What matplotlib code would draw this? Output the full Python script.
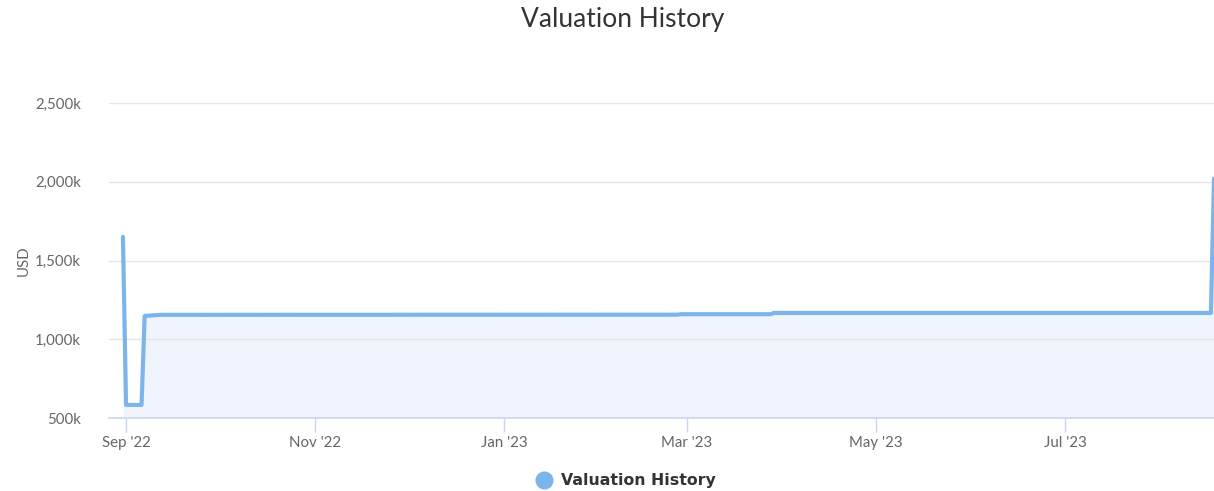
import matplotlib
matplotlib.use("Agg")
import matplotlib.pyplot as plt
import matplotlib.dates as mdates
from matplotlib.lines import Line2D
from matplotlib.ticker import FuncFormatter
import pandas as pd

# ---- data ----
dates = ["2022-08-31", "2022-09-01", "2022-09-06", "2022-09-07", "2022-09-12",
         "2023-02-26", "2023-02-27", "2023-03-28", "2023-03-29",
         "2023-08-17", "2023-08-18"]
values_k = [1650, 583, 583, 1148, 1155,
            1156, 1159, 1159, 1167,
            1167, 2020]
tick_dates = ["2022-09-01", "2022-11-01", "2023-01-01", "2023-03-01", "2023-05-01", "2023-07-01"]
y_ticks_k = [500, 1000, 1500, 2000, 2500]
title = "Valuation History"
series_name = "Valuation History"
y_label = "USD"

x = pd.to_datetime(dates)
y = [v * 1000 for v in values_k]

plt.rcParams['font.family'] = ['Lato', 'DejaVu Sans']

fig = plt.figure(figsize=(12.14, 4.91), dpi=100)
ax = fig.add_axes([109/1214, 1 - 418/491, (1214 - 109)/1214, (418 - 103)/491])

line_color = "#7cb5ec"
ax.fill_between(x, 500000, y, color="#f0f5fd", lw=0, zorder=1)
ax.plot(x, y, color=line_color, lw=3, solid_joinstyle="round", solid_capstyle="round", zorder=3, clip_on=False)

ax.set_ylim(500000, 2500000)
ax.set_xlim(pd.Timestamp("2022-08-26 12:00"), x[-1])
ax.set_yticks([v * 1000 for v in y_ticks_k])
ax.yaxis.set_major_formatter(FuncFormatter(lambda v, p: f"{int(round(v/1000)):,}k"))
ax.set_xticks(pd.to_datetime(tick_dates))
ax.xaxis.set_major_formatter(mdates.DateFormatter("%b '%y"))

ax.grid(axis="y", color="#e6e6e6", lw=1, zorder=0)
for s in ["top", "right", "left"]:
    ax.spines[s].set_visible(False)
ax.spines["bottom"].set_color("#ccd6eb")
ax.spines["bottom"].set_linewidth(1.2)
ax.spines["bottom"].set_zorder(2)
ax.tick_params(axis="x", length=10, width=1, color="#ccd6eb", labelcolor="#666666", labelsize=10.8, pad=3)
ax.tick_params(axis="y", length=0, labelcolor="#666666", labelsize=10.8, pad=20)
ax.set_ylabel(y_label, color="#666666", fontsize=10.8, labelpad=8)
ax.yaxis.set_label_coords(-78/1105, 0.5)

fig.text(623/1214, 1 - 19/491, title, ha="center", va="center", fontsize=19, color="#333333")

handle = Line2D([], [], marker="o", ls="", color=line_color, markersize=12)
leg = fig.legend(handles=[handle], labels=[series_name], loc="center",
                 bbox_to_anchor=(622/1214, 1 - 481/491), frameon=False,
                 handletextpad=0.1, prop={"family": ["DejaVu Sans"], "weight": "bold", "size": 11.3})
for t in leg.get_texts():
    t.set_color("#333333")

fig.savefig("out.png", dpi=100)
